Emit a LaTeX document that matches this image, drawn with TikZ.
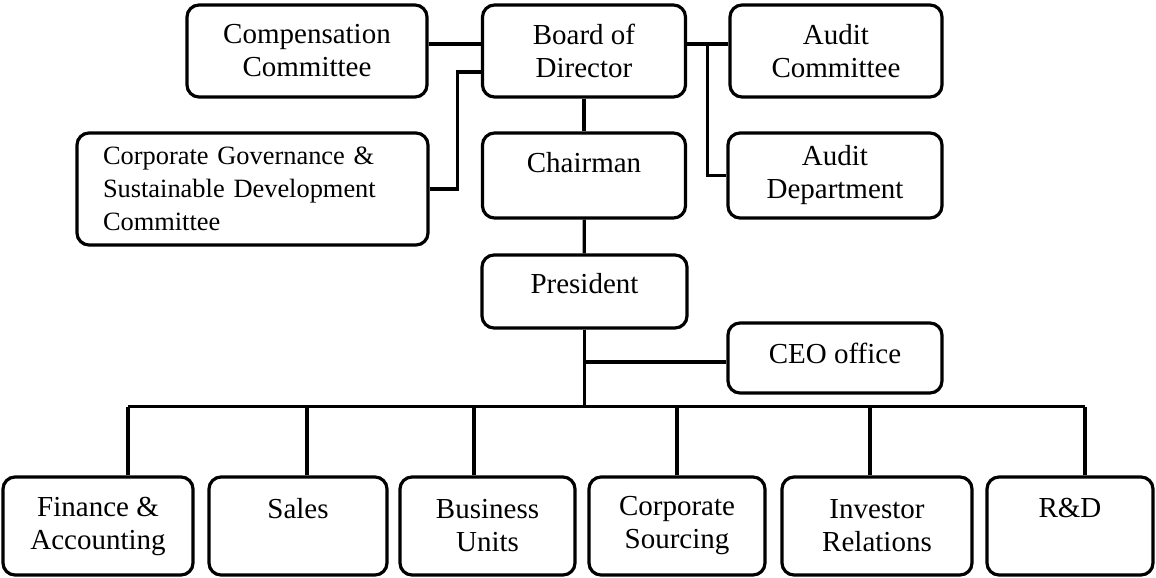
\documentclass[tikz,border=0pt]{standalone}
\usepackage{fontspec}
\setmainfont{Liberation Serif}

\begin{document}
\begin{tikzpicture}[x=0.5pt, y=-0.5pt,
        unit/.style={draw, rounded corners=6pt, line width=1.6pt, align=center,
          font=\fontsize{14.5}{16.5}\selectfont},
        lift/.style={text depth=#1},
        link/.style={line width=1.6pt}]
        \useasboundingbox (0,0) rectangle (1156,578);
        \node[unit, minimum width=120pt, minimum height=46pt] (comp) at (307,51) {Compensation\\Committee};
        \node[unit, minimum width=101.5pt, minimum height=46pt] (board) at (584,51) {Board of\\Director};
        \node[unit, minimum width=106pt, minimum height=46pt] (audit) at (836,51) {Audit\\Committee};
        \node[unit, align=left, text width=149.5pt, inner xsep=13pt, minimum height=56pt,
          font=\fontsize{13.2}{16.5}\selectfont] (cgsd) at (252.5,189)
          {Corporate Governance \&\\Sustainable Development\\Committee};
        \node[unit, minimum width=101.5pt, minimum height=42.5pt, lift=13.4pt] (chair) at (584,175.5) {Chairman};
        \node[unit, minimum width=107pt, minimum height=42.5pt] (auditdep) at (835,175.5) {Audit\\Department};
        \node[unit, minimum width=102.5pt, minimum height=36.5pt, lift=8pt] (pres) at (584.5,291.5) {President};
        \node[unit, minimum width=107pt, minimum height=35pt, lift=5pt] (ceo) at (835,358) {CEO office};
        \node[unit, minimum width=95pt, minimum height=49pt] (fin) at (98,526) {Finance \&\\Accounting};
        \node[unit, minimum width=89pt, minimum height=49pt, lift=18pt] (sales) at (298,526) {Sales};
        \node[unit, minimum width=87.5pt, minimum height=49pt] (bu) at (487.5,526) {Business\\Units};
        \node[unit, minimum width=88pt, minimum height=49pt] (cs) at (677,526) {Corporate\\Sourcing};
        \node[unit, minimum width=95pt, minimum height=49pt] (ir) at (877,526) {Investor\\Relations};
        \node[unit, minimum width=83pt, minimum height=49pt, lift=18pt] (rd) at (1070,526) {R\&D};
        \draw[link] ([yshift=3.5pt]comp.east) -- ([yshift=3.5pt]board.west);
        \draw[link] (cgsd.east) -- ++(28,0) |- ([yshift=-10.5pt]board.west);
        \draw[link] ([yshift=3.5pt]board.east) -- coordinate[midway] (ab) ([yshift=3.5pt]audit.west);
        \draw[link] (ab) |- (auditdep.west);
        \draw[link] (board) -- (chair);
        \draw[link] (chair) -- (pres);
        \draw[link] (pres.south) |- ([yshift=-2pt]ceo.west);
        \draw[link] (pres.south) -- ++(0,77) coordinate (hub);
        \draw[link] ([xshift=15pt]fin.north |- hub) -- ([xshift=7.5pt]rd.north |- hub);
        \draw[link] ([xshift=15pt]fin.north) -- ([xshift=15pt]fin.north |- hub);
        \draw[link] ([xshift=4.5pt]sales.north) -- ([xshift=4.5pt]sales.north |- hub);
        \draw[link] ([xshift=-6.75pt]bu.north) -- ([xshift=-6.75pt]bu.north |- hub);
        \draw[link] (cs.north) -- (cs.north |- hub);
        \draw[link] ([xshift=-3.5pt]ir.north) -- ([xshift=-3.5pt]ir.north |- hub);
        \draw[link] ([xshift=7.5pt]rd.north) -- ([xshift=7.5pt]rd.north |- hub);
      \end{tikzpicture}
\end{document}
